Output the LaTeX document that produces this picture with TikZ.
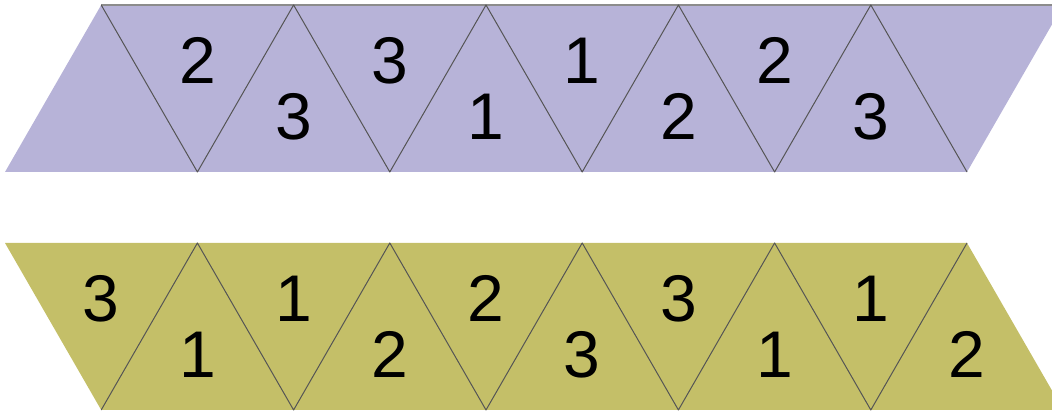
\documentclass[tikz,border=0pt]{standalone}
\usepackage{fontspec}
\setmainfont{Liberation Sans}
\definecolor{lavender}{HTML}{B7B3D8}
\definecolor{stripolive}{HTML}{C4BF68}
\definecolor{edgegray}{HTML}{555555}
\definecolor{rimgray}{HTML}{8C8C8C}

\begin{document}
\begin{tikzpicture}[
    x=0.5pt, y=0.5pt, % One unit per pixel of the reference
    edge/.style={draw=edgegray, line width=0.5pt, line join=round}, % Style for inner triangle sides
    rim/.style={draw=rimgray, line width=1pt}, % Style for the top rim of the upper strip
    digit/.style={font=\fontsize{33}{36}\selectfont, text=black, inner sep=0pt} % Style for the numbers
]
    \useasboundingbox (0,0) rectangle (1052,415);
    \clip (0,0) rectangle (1052,415);

    % Triangle side and row height
    \def\side{192.4}
    \def\rowh{167}

    % --- Upper strip (lavender) ---
    \begin{scope}[shift={(0,243)}]
        % Parallelogram
        \fill[lavender] (5,0) -- (101.2,\rowh) -- (101.2+5*\side,\rowh) -- (5+5*\side,0) -- cycle;
        \draw[rim] (101.2,\rowh) -- (101.2+5*\side,\rowh);

        % Zigzag of inner sides
        \draw[edge] (101.2,\rowh) \foreach \k in {1,...,4} { -- (5+\k*\side,0) -- (101.2+\k*\side,\rowh) } -- (5+5*\side,0);

        % Numbers in upward triangles
        \foreach \k/\n in {1/3, 2/1, 3/2, 4/3}
            \node[digit] (top-up-\k) at (101.2+\k*\side, \rowh/3) {\n};
        % Numbers in downward triangles
        \foreach \k/\n in {0/2, 1/3, 2/1, 3/2}
            \node[digit] (top-down-\k) at (197.4+\k*\side, 2*\rowh/3) {\n};
    \end{scope}

    % --- Lower strip (olive) ---
    \begin{scope}[shift={(0,5)}]
        % Parallelogram
        \fill[stripolive] (5,\rowh) -- (101.2,0) -- (101.2+5*\side,0) -- (5+5*\side,\rowh) -- cycle;

        % Zigzag of inner sides
        \draw[edge] (101.2,0) \foreach \k in {1,...,4} { -- (5+\k*\side,\rowh) -- (101.2+\k*\side,0) } -- (5+5*\side,\rowh);

        % Numbers in downward triangles
        \foreach \k/\n in {0/3, 1/1, 2/2, 3/3, 4/1}
            \node[digit] (bot-down-\k) at (101.2+\k*\side, 2*\rowh/3) {\n};
        % Numbers in upward triangles
        \foreach \k/\n in {0/1, 1/2, 2/3, 3/1, 4/2}
            \node[digit] (bot-up-\k) at (197.4+\k*\side, \rowh/3) {\n};
    \end{scope}

\end{tikzpicture}
\end{document}
